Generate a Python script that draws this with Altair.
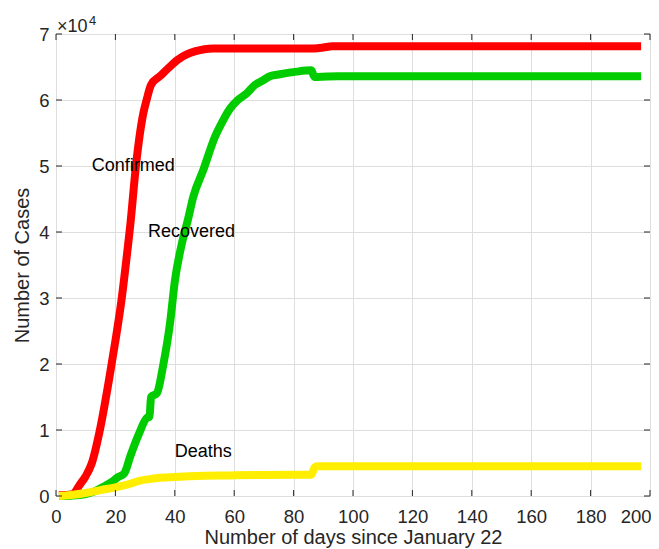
import altair as alt
import pandas as pd

# ---- data ----
conf_days = [1, 3, 5, 6, 7, 8, 10, 12, 15, 18, 20, 22, 24, 25, 27, 29.4, 30.5, 32, 35, 38, 41, 44, 47, 50, 53, 60, 70, 86, 88, 90, 93, 120, 150, 197]
conf_vals = [100, 150, 220, 350, 1000, 1700, 3000, 4900, 10500, 18000, 23500, 29500, 37000, 41000, 50400, 58000, 60000, 62300, 63600, 64900, 66100, 66900, 67400, 67700, 67800, 67800, 67800, 67803, 67850, 67950, 68128, 68128, 68128, 68128]

rec_days = [1, 5, 8, 10, 13, 16, 19, 21, 22.7, 23.2, 25, 28, 30.5, 31.5, 32, 34, 36, 38.4, 40, 42.5, 44.5, 46.2, 49.6, 53.5, 56, 58.6, 61, 64.2, 67, 69.8, 72, 75.4, 81, 86, 87, 88, 95, 120, 197]
rec_vals = [0, 50, 150, 300, 700, 1400, 2200, 2900, 3300, 3600, 6000, 9500, 11800, 12000, 15000, 15600, 19600, 26200, 32500, 38500, 42000, 45300, 49400, 54400, 56700, 58700, 59900, 61000, 62300, 63000, 63600, 63900, 64300, 64500, 63500, 63500, 63616, 63616, 63616]

death_days = [1, 5, 10, 15, 20, 25, 28, 32, 35, 40, 45, 50, 55, 60, 70, 80, 86, 87, 88, 120, 197]
death_vals = [17, 150, 450, 900, 1300, 1850, 2300, 2600, 2750, 2880, 2980, 3050, 3100, 3130, 3180, 3210, 3222, 4300, 4512, 4512, 4512]

label_text = ["Confirmed", "Recovered", "Deaths"]
label_day = [12, 31, 40]
label_cases = [50000, 40000, 6700]

x_ticks = [0, 20, 40, 60, 80, 100, 120, 140, 160, 180, 200]
y_ticks = [0, 10000, 20000, 30000, 40000, 50000, 60000, 70000]

# ---- chart ----
W, H = 594, 462
FONT = "Liberation Sans"
AX = "#262626"

xs = alt.Scale(domain=[0, 200], nice=False, zero=False)
ys = alt.Scale(domain=[0, 70000], nice=False)

x_axis = alt.Axis(values=x_ticks, title="Number of days since January 22", grid=True,
                  gridColor="#dedede", gridWidth=1, ticks=False, tickSize=0, domain=False,
                  labelFont=FONT, labelFontSize=18.5, labelColor=AX, labelPadding=11,
                  labelAlign=alt.ExprRef(expr="datum.value >= 200 ? 'right' : 'center'"),
                  labelOffset=alt.ExprRef(expr="datum.value >= 200 ? 1 : 0"),
                  titleFont=FONT, titleFontSize=20, titleFontWeight="normal", titleColor=AX,
                  titlePadding=2, labelFlush=False)
y_axis = alt.Axis(values=y_ticks, title="Number of Cases", grid=True,
                  gridColor="#dedede", gridWidth=1, ticks=False, tickSize=0, domain=False,
                  labelFont=FONT, labelFontSize=18.5, labelColor=AX, labelPadding=7,
                  labelExpr="datum.value / 10000",
                  titleFont=FONT, titleFontSize=20, titleFontWeight="normal", titleColor=AX,
                  titlePadding=6, labelFlush=False)

X = lambda: alt.X("day:Q", scale=xs, axis=x_axis)
Y = lambda: alt.Y("cases:Q", scale=ys, axis=y_axis)


def line_layer(days, vals, color):
    df = pd.DataFrame({"day": days, "cases": vals})
    return alt.Chart(df).mark_line(strokeWidth=8, color=color, interpolate="monotone",
                                   strokeCap="butt", strokeJoin="round").encode(x=X(), y=Y())


red = line_layer(conf_days, conf_vals, "#ff0000")
green = line_layer(rec_days, rec_vals, "#00cc00")
yellow = line_layer(death_days, death_vals, "#ffee00")

lab_df = pd.DataFrame({"label": label_text, "day": label_day, "cases": label_cases})
labels = alt.Chart(lab_df).mark_text(align="left", baseline="middle", font=FONT,
                                     fontSize=18, color="black").encode(
    x=X(), y=Y(), text="label:N")

xt = pd.DataFrame({"day": x_ticks})
yt = pd.DataFrame({"cases": y_ticks})
tick_style = dict(color=AX, strokeWidth=1)
tick_bottom = alt.Chart(xt).mark_rule(**tick_style).encode(x=X(), y=alt.value(H), y2=alt.value(H - 6))
tick_top = alt.Chart(xt).mark_rule(**tick_style).encode(x=X(), y=alt.value(0), y2=alt.value(6))
tick_left = alt.Chart(yt).mark_rule(**tick_style).encode(y=Y(), x=alt.value(0), x2=alt.value(6))
tick_right = alt.Chart(yt).mark_rule(**tick_style).encode(y=Y(), x=alt.value(W), x2=alt.value(W - 6))

exp_df = pd.DataFrame({"t": ["×10"]})
exp_base = alt.Chart(exp_df).mark_text(align="left", baseline="alphabetic", font=FONT,
                                       fontSize=18, color=AX).encode(
    x=alt.value(1), y=alt.value(-2), text="t:N")
sup_df = pd.DataFrame({"t": ["4"]})
exp_sup = alt.Chart(sup_df).mark_text(align="left", baseline="alphabetic", font=FONT,
                                      fontSize=13, color=AX).encode(
    x=alt.value(33), y=alt.value(-9), text="t:N")

chart = alt.layer(
    red, green, yellow, labels, tick_bottom, tick_top, tick_left, tick_right, exp_base, exp_sup
).properties(
    width=W, height=H,
    padding={"left": 48, "top": 26, "right": 1, "bottom": 53},
    autosize=alt.AutoSizeParams(type="none"),
).configure_view(stroke=AX, strokeWidth=1).configure(background="white")

chart.save("out.html", embed_options={"renderer": "svg", "actions": False})
